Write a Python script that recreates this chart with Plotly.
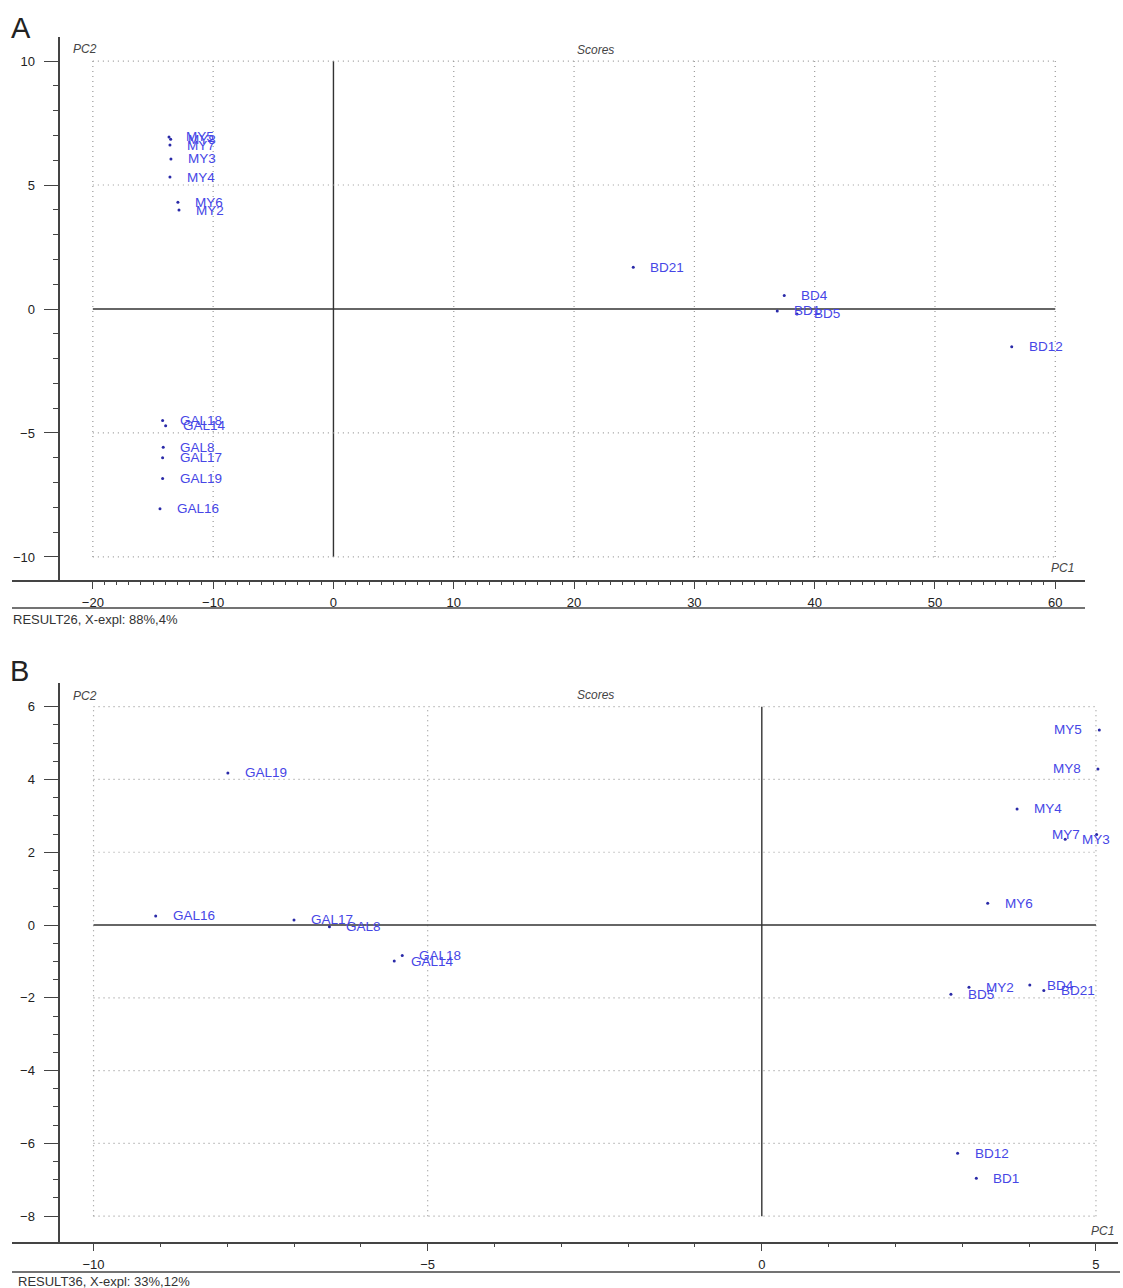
import numpy as np
import plotly.graph_objects as go

W, H = 1123, 1288

# ---------------- data ----------------
a_names = ["MY5", "MY8", "MY7", "MY3", "MY4", "MY6", "MY2",
           "GAL18", "GAL14", "GAL8", "GAL17", "GAL19", "GAL16",
           "BD21", "BD4", "BD1", "BD5", "BD12"]
a_pc1 = [-13.67, -13.53, -13.59, -13.51, -13.59, -12.93, -12.84,
         -14.20, -13.95, -14.15, -14.20, -14.20, -14.42,
         24.92, 37.47, 36.89, 38.53, 56.38]
a_pc2 = [6.94, 6.85, 6.61, 6.05, 5.32, 4.31, 3.99,
         -4.50, -4.71, -5.58, -6.00, -6.84, -8.06,
         1.68, 0.54, -0.08, -0.20, -1.52]

b_names = ["MY5", "MY8", "MY4", "MY7", "MY3", "MY6", "MY2",
           "BD5", "BD4", "BD21", "BD12", "BD1",
           "GAL19", "GAL16", "GAL17", "GAL8", "GAL14", "GAL18"]
b_pc1 = [5.05, 5.03, 3.82, 5.01, 4.54, 3.38, 3.10,
         2.83, 4.01, 4.22, 2.93, 3.21,
         -7.99, -9.07, -7.00, -6.47, -5.50, -5.38]
b_pc2 = [5.36, 4.29, 3.19, 2.49, 2.36, 0.60, -1.71,
         -1.90, -1.65, -1.80, -6.27, -6.96,
         4.18, 0.25, 0.14, -0.05, -0.99, -0.84]

# labels drawn to the left of their point (near the right edge)
b_left_labels = ["MY5", "MY8", "MY7"]

a_xticks = [-20, -10, 0, 10, 20, 30, 40, 50, 60]
a_yticks = [-10, -5, 0, 5, 10]
b_xticks = [-10, -5, 0, 5]
b_yticks = [-8, -6, -4, -2, 0, 2, 4, 6]

a_footer = "RESULT26, X-expl: 88%,4%"
b_footer = "RESULT36, X-expl: 33%,12%"

# ---------------- styles ----------------
FONT = "Liberation Sans, Arial, sans-serif"
LABEL_C = "#4646e6"
MARK_C = "#2a2aa8"
AXIS_C = "#444444"
GRID_C = "#9a9a9a"
TXT_C = "#222222"


def PX(x):
    return x / W


def PY(y):
    return 1 - y / H


fig = go.Figure()

fig.add_trace(go.Scatter(x=a_pc1, y=a_pc2, mode="markers", xaxis="x", yaxis="y",
                         marker=dict(size=3, color=MARK_C), hoverinfo="text",
                         text=a_names, showlegend=False))
fig.add_trace(go.Scatter(x=b_pc1, y=b_pc2, mode="markers", xaxis="x2", yaxis="y2",
                         marker=dict(size=3, color=MARK_C), hoverinfo="text",
                         text=b_names, showlegend=False))

annotations = []
for n, x, y in zip(a_names, a_pc1, a_pc2):
    annotations.append(dict(x=x, y=y, xref="x", yref="y", text=n, showarrow=False,
                            xanchor="left", yanchor="middle", xshift=15,
                            font=dict(family=FONT, size=13.5, color=LABEL_C)))
for n, x, y in zip(b_names, b_pc1, b_pc2):
    left = n in b_left_labels
    annotations.append(dict(x=x, y=y, xref="x2", yref="y2", text=n, showarrow=False,
                            xanchor="right" if left else "left", yanchor="middle",
                            xshift=-15 if left else 15,
                            font=dict(family=FONT, size=13.5, color=LABEL_C)))


def ptext(txt, x, y, size=12, anchor="left", italic=False, color=TXT_C):
    return dict(x=PX(x), y=PY(y), xref="paper", yref="paper", text=txt, showarrow=False,
                xanchor=anchor, yanchor="middle",
                font=dict(family=FONT, size=size, color=color,
                          style="italic" if italic else "normal"))


annotations += [
    ptext("A", 9, 28, size=29),
    ptext("B", 8, 671, size=29),
    ptext("PC2", 71, 49, size=12, italic=True, color="#444"),
    ptext("Scores", 595, 50, size=12, anchor="center", italic=True, color="#444"),
    ptext("PC1", 1049, 568, size=12, italic=True, color="#444"),
    ptext("PC2", 71, 696, size=12, italic=True, color="#444"),
    ptext("Scores", 595, 695, size=12, anchor="center", italic=True, color="#444"),
    ptext("PC1", 1089, 1231, size=12, italic=True, color="#444"),
    ptext(a_footer, 11, 619, size=13, color="#333"),
    ptext(b_footer, 16, 1281, size=13, color="#333"),
]

shapes = []
dot = dict(color=GRID_C, width=1.2, dash="1px,4px")
solid = dict(color="#333333", width=1.4)


def grid(xs, ys, xt, yt):
    for v in xt:
        shapes.append(dict(type="line", xref=xs, yref=ys, x0=v, x1=v, y0=min(yt), y1=max(yt),
                           line=solid if v == 0 else dot, layer="below"))
    for v in yt:
        shapes.append(dict(type="line", xref=xs, yref=ys, y0=v, y1=v, x0=min(xt), x1=max(xt),
                           line=solid if v == 0 else dot, layer="below"))


grid("x", "y", a_xticks, a_yticks)
grid("x2", "y2", b_xticks, b_yticks)

# separator lines under the tick labels
shapes.append(dict(type="line", xref="paper", yref="paper", x0=PX(12), x1=PX(1085),
                   y0=PY(608), y1=PY(608), line=dict(color=AXIS_C, width=1.5)))
shapes.append(dict(type="line", xref="paper", yref="paper", x0=PX(12), x1=PX(1120),
                   y0=PY(1272), y1=PY(1272), line=dict(color=AXIS_C, width=1.5)))


def xaxis(domain, rng, ticks, minor_vals, anchor):
    return dict(domain=domain, range=rng, anchor=anchor, showgrid=False, zeroline=False,
                showline=True, linecolor=AXIS_C, linewidth=1.5,
                tickmode="array", tickvals=ticks, ticks="outside", ticklen=7,
                tickwidth=1.3, tickcolor=AXIS_C, ticklabelstandoff=3,
                tickfont=dict(family=FONT, size=13, color=TXT_C),
                minor=dict(tickmode="array", tickvals=minor_vals, ticks="outside",
                           ticklen=3, tickwidth=1, tickcolor=AXIS_C, showgrid=False),
                fixedrange=True)


def yaxis(domain, rng, ticks, minor_vals, pos):
    return dict(domain=domain, range=rng, anchor="free", position=pos, showgrid=False,
                zeroline=False, showline=True, linecolor=AXIS_C, linewidth=1.5,
                tickmode="array", tickvals=ticks, ticks="outside", ticklen=15,
                tickwidth=1.3, tickcolor=AXIS_C, ticklabelstandoff=6,
                tickfont=dict(family=FONT, size=13, color=TXT_C),
                minor=dict(tickmode="array", tickvals=minor_vals, ticks="outside",
                           ticklen=6, tickwidth=1.2, tickcolor=AXIS_C, showgrid=False),
                fixedrange=True)


a_xminor = list(np.arange(min(a_xticks), max(a_xticks) + 1, 1))
a_yminor = list(np.arange(min(a_yticks), max(a_yticks) + 1, 1))
b_xminor = list(np.arange(min(b_xticks), max(b_xticks) + 1, 1))
b_yminor = list(np.arange(min(b_yticks), max(b_yticks) + 0.5, 0.5))

fig.update_layout(
    width=W, height=H, margin=dict(l=0, r=0, t=0, b=0),
    paper_bgcolor="white", plot_bgcolor="white", showlegend=False,
    xaxis=xaxis([PX(12), PX(1085)], [-26.72, 62.47], a_xticks, a_xminor, "y"),
    yaxis=yaxis([PY(580), PY(37)], [-10.93, 10.97], a_yticks, a_yminor, PX(59.3)),
    xaxis2=xaxis([PX(12), PX(1118)], [-11.22, 5.33], b_xticks, b_xminor, "y2"),
    yaxis2=yaxis([PY(1242), PY(683)], [-8.71, 6.65], b_yticks, b_yminor, PX(59.3)),
    annotations=annotations, shapes=shapes,
)

fig.write_html(
    "out.html",
    config={"displayModeBar": False},
    post_script="document.body.style.margin='0px';document.body.style.padding='0px';"
                "document.body.style.overflow='hidden';",
)
